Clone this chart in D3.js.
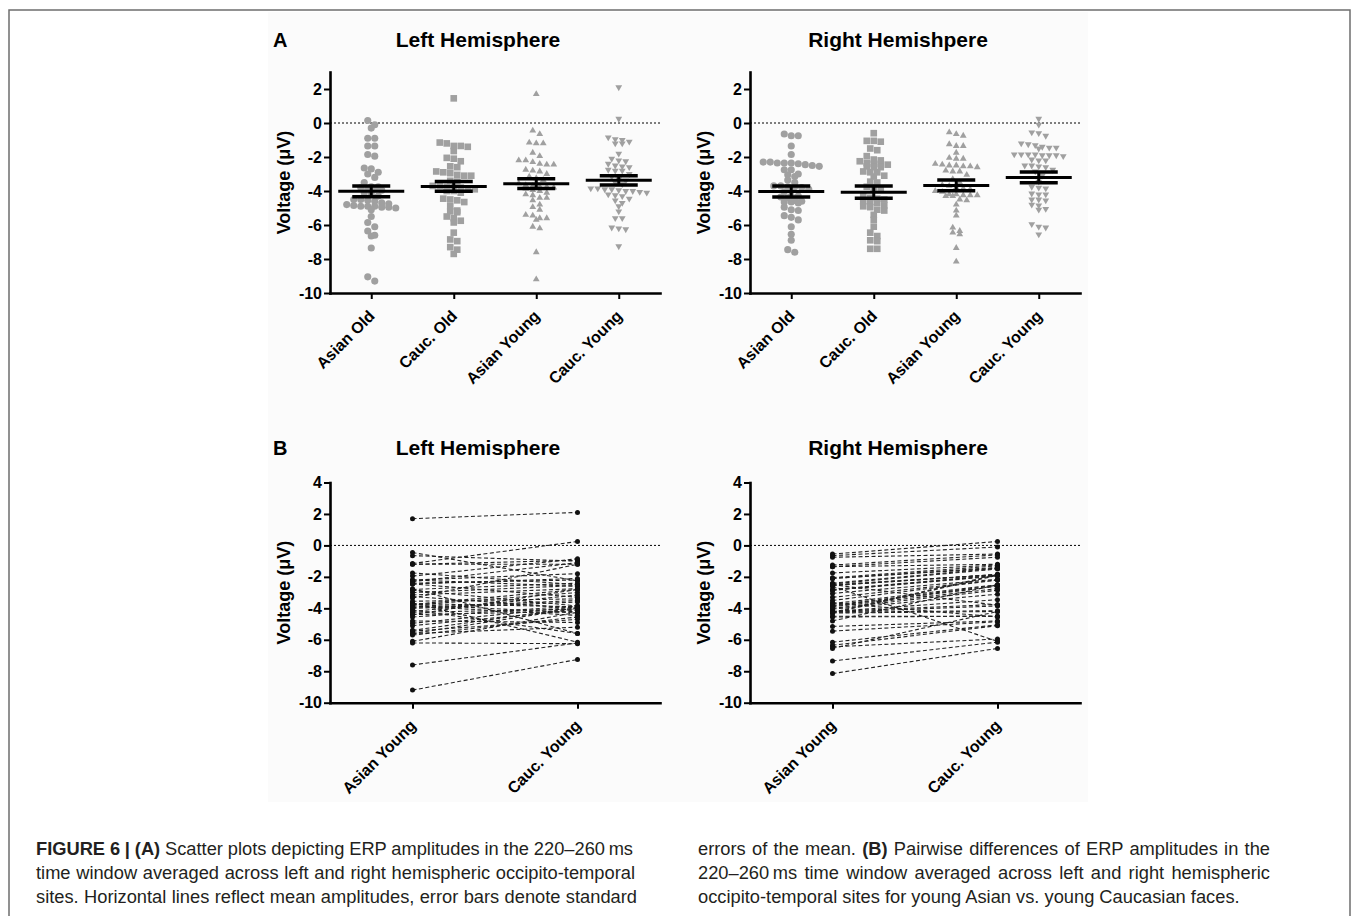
<!DOCTYPE html>
<html><head><meta charset="utf-8">
<script src="https://cdn.jsdelivr.net/npm/d3@7"></script>
<style>body{margin:0;background:#fff} svg{display:block}</style>
</head><body>
<svg id="chart" width="1355" height="916"></svg>
<script>
// ---------- DATA ----------
const groups = ["Asian Old", "Cauc. Old", "Asian Young", "Cauc. Young"];
const pairGroups = ["Asian Young", "Cauc. Young"];
const yTicksA = [2, 0, -2, -4, -6, -8, -10];
const yTicksB = [4, 2, 0, -2, -4, -6, -8, -10];
const titlesA = ["Left Hemisphere", "Right Hemishpere"];
const titlesB = ["Left Hemisphere", "Right Hemisphere"];

const leftAsianOld = [0.15, -0.1, -0.3, -0.9, -0.9, -1.35, -1.35, -1.85, -1.95, -2.65, -2.7, -2.9, -3.0, -3.2, -3.5, -3.75, -3.75, -3.8, -3.85, -3.9, -3.95, -4.1, -4.2, -4.3, -4.5, -4.5, -4.55, -4.6, -4.7, -4.75, -4.8, -4.85, -4.9, -4.9, -4.9, -4.95, -4.95, -5.0, -5.1, -5.5, -5.85, -6.1, -6.35, -6.6, -6.65, -7.35, -9.05, -9.3];
const leftCaucOld = [1.45, -1.15, -1.2, -1.35, -1.35, -1.4, -1.65, -2.05, -2.1, -2.25, -2.55, -2.6, -2.85, -2.9, -2.95, -3.05, -3.1, -3.1, -3.4, -3.45, -3.7, -3.7, -3.75, -3.75, -3.8, -3.85, -3.9, -4.0, -4.0, -4.1, -4.45, -4.5, -4.55, -4.65, -4.9, -5.15, -5.2, -5.25, -5.5, -5.6, -5.75, -5.85, -6.45, -6.85, -6.95, -7.3, -7.45, -7.7];
// Young groups are listed per participant (same index = same participant, used for panel B)
const leftAsianYoung = [1.7, -0.45, -0.65, -1.15, -1.2, -1.2, -1.75, -1.95, -2.2, -2.2, -2.3, -2.4, -2.45, -2.45, -2.75, -2.8, -2.85, -3.0, -3.15, -3.25, -3.35, -3.55, -3.65, -3.7, -3.75, -3.75, -3.8, -3.85, -3.95, -4.0, -4.1, -4.2, -4.25, -4.4, -4.4, -4.55, -4.8, -4.95, -5.1, -5.4, -5.45, -5.6, -5.6, -5.7, -6.1, -6.2, -7.6, -9.2];
const leftCaucYoung = [2.1, -2.25, -1.0, 0.25, -1.2, -0.95, -2.5, -0.85, -1.8, -2.6, -1.1, -2.2, -3.3, -2.1, -5.6, -2.4, -3.85, -2.55, -2.75, -4.0, -1.2, -3.4, -6.15, -3.9, -2.8, -4.3, -3.0, -4.45, -3.5, -3.6, -5.6, -3.15, -4.05, -2.8, -4.2, -3.85, -4.9, -3.9, -4.1, -3.95, -4.7, -4.0, -5.2, -4.55, -4.25, -6.25, -6.2, -7.25];

const rightAsianOld = [-0.65, -0.75, -0.75, -1.35, -1.85, -2.3, -2.3, -2.35, -2.35, -2.35, -2.4, -2.45, -2.5, -2.55, -2.75, -2.75, -3.0, -3.05, -3.15, -3.35, -3.5, -3.7, -3.7, -3.75, -3.75, -3.8, -3.9, -4.05, -4.3, -4.3, -4.35, -4.4, -4.55, -4.6, -4.65, -4.65, -4.7, -4.95, -5.1, -5.15, -5.45, -5.55, -5.7, -6.1, -6.55, -6.9, -7.45, -7.6];
const rightCaucOld = [-0.6, -1.05, -1.05, -1.1, -1.5, -1.6, -1.95, -2.15, -2.2, -2.25, -2.35, -2.4, -2.4, -2.45, -2.55, -2.6, -2.6, -2.85, -2.9, -2.9, -3.1, -3.15, -3.45, -3.5, -3.75, -3.8, -3.85, -4.3, -4.4, -4.45, -4.5, -4.6, -4.65, -4.7, -4.85, -4.9, -4.95, -5.1, -5.15, -5.4, -5.7, -6.1, -6.45, -6.65, -6.9, -6.95, -7.4, -7.4];
const rightAsianYoung = [-0.55, -0.65, -0.75, -1.25, -1.35, -1.35, -1.75, -2.05, -2.1, -2.1, -2.4, -2.45, -2.5, -2.5, -2.55, -2.55, -2.6, -2.8, -2.85, -2.85, -3.05, -3.3, -3.5, -3.65, -3.7, -3.8, -3.85, -3.9, -4.0, -4.05, -4.2, -4.2, -4.25, -4.25, -4.25, -4.3, -4.3, -4.5, -4.55, -4.8, -5.15, -5.45, -6.15, -6.35, -6.45, -6.55, -7.35, -8.15];
const rightCaucYoung = [0.25, -0.1, -0.55, -0.6, -0.75, -1.2, -1.25, -1.3, -1.4, -1.45, -1.45, -1.5, -3.8, -1.85, -1.85, -1.85, -6.1, -1.9, -1.9, -1.95, -2.15, -2.2, -2.2, -4.55, -2.5, -2.55, -2.6, -2.75, -2.85, -3.1, -3.45, -3.75, -1.85, -3.85, -4.15, -1.9, -4.2, -4.5, -4.5, -2.5, -4.8, -4.85, -5.05, -5.1, -5.95, -4.2, -6.15, -6.55];

// means and standard errors
const leftMeans = [-4.02, -3.73, -3.57, -3.37];
const leftSEM = [0.32, 0.29, 0.29, 0.27];
const rightMeans = [-4.03, -4.07, -3.67, -3.2];
const rightSEM = [0.32, 0.36, 0.32, 0.32];

const captionLeft = [
  [["FIGURE 6 | (A)", true], [" Scatter plots depicting ERP amplitudes in the 220–260\u2009ms", false]],
  [["time window averaged across left and right hemispheric occipito-temporal", false]],
  [["sites. Horizontal lines reflect mean amplitudes, error bars denote standard", false]]
];
const captionRight = [
  [["errors of the mean. ", false], ["(B)", true], [" Pairwise differences of ERP amplitudes in the", false]],
  [["220–260\u2009ms time window averaged across left and right hemispheric", false]],
  [["occipito-temporal sites for young Asian vs. young Caucasian faces.", false]]
];

// ---------- DRAW ----------
const svg = d3.select("#chart");
const FONT = "'Liberation Sans', Arial, Helvetica, sans-serif";

// figure frame and faint figure background
svg.append("rect").attr("x", 268).attr("y", 12).attr("width", 820).attr("height", 790).attr("fill", "#fbfbfb");
svg.append("path").attr("d", "M9,930 V10 H1350 V930").attr("fill", "none").attr("stroke", "#6e6e6e").attr("stroke-width", 1.5);

const panelX = [330, 750];
const plotW = 330;

function styleAxis(g) {
  g.select(".domain").attr("stroke", "#000").attr("stroke-width", 2.6).attr("stroke-linecap", "square");
  g.selectAll(".tick line").attr("stroke", "#000").attr("stroke-width", 2);
  g.selectAll(".tick text").attr("fill", "#000").style("font-family", FONT).style("font-weight", "bold").style("font-size", "16px");
}

function drawFrame(x0, yScale, ticks, xScale, title, titleY, panelLetter) {
  const yBottom = yScale.range()[0];
  svg.append("line").attr("x1", x0).attr("x2", x0 + plotW)
    .attr("y1", yScale(0)).attr("y2", yScale(0))
    .attr("stroke", "#000").attr("stroke-width", 1).attr("stroke-dasharray", "2,2");
  const gy = svg.append("g").attr("transform", `translate(${x0},0)`)
    .call(d3.axisLeft(yScale).tickValues(ticks).tickSize(6).tickSizeOuter(0).tickPadding(2).tickFormat(d => String(d)));
  styleAxis(gy);
  const gx = svg.append("g").attr("transform", `translate(0,${yBottom})`)
    .call(d3.axisBottom(xScale).tickSize(6).tickSizeOuter(0));
  styleAxis(gx);
  gx.selectAll(".tick text").attr("text-anchor", "end").attr("x", 0).attr("y", 0).attr("dy", 0)
    .attr("transform", "translate(4,24) rotate(-45)");
  const yMid = (yScale.range()[0] + yScale.range()[1]) / 2;
  svg.append("text").attr("transform", `translate(${x0 - 40},${yMid}) rotate(-90)`)
    .attr("text-anchor", "middle").style("font-family", FONT).style("font-weight", "bold").style("font-size", "18px")
    .text("Voltage (μV)");
  svg.append("text").attr("x", x0 + 148).attr("y", titleY).attr("text-anchor", "middle")
    .style("font-family", FONT).style("font-weight", "bold").style("font-size", "21px").text(title);
  if (panelLetter) {
    svg.append("text").attr("x", 273).attr("y", titleY).style("font-family", FONT)
      .style("font-weight", "bold").style("font-size", "20px").text(panelLetter);
  }
}

function swarm(values, yScale, spacing, thresh) {
  const pts = values.map(v => ({ v, y: yScale(v) })).sort((a, b) => a.y - b.y);
  const rows = [];
  let cur = null;
  for (const p of pts) {
    if (!cur || p.y - cur[0].y > thresh) { cur = [p]; rows.push(cur); } else cur.push(p);
  }
  rows.forEach(r => r.forEach((p, i) => { p.dx = (i - (r.length - 1) / 2) * spacing; }));
  return pts;
}

const symbols = [d3.symbolCircle, d3.symbolSquare, d3.symbolTriangle, d3.symbolTriangle];
const symSizes = [40, 44, 20, 20];
const symRot = [0, 0, 0, 180];

// Panel A
const panelAData = [
  [leftAsianOld, leftCaucOld, leftAsianYoung, leftCaucYoung],
  [rightAsianOld, rightCaucOld, rightAsianYoung, rightCaucYoung]
];
const panelAMeans = [leftMeans, rightMeans];
const panelASEM = [leftSEM, rightSEM];

panelX.forEach((x0, p) => {
  const y = d3.scaleLinear().domain([-10, 3]).range([293, 72]);
  const x = d3.scalePoint().domain(groups).range([x0, x0 + plotW]).padding(0.5);
  drawFrame(x0, y, yTicksA, x, titlesA[p], 47, p === 0 ? "A" : null);
  panelAData[p].forEach((vals, gi) => {
    const cx = x(groups[gi]);
    const pts = swarm(vals, y, 7, 4.5);
    svg.append("g").selectAll("path").data(pts).join("path")
      .attr("d", d3.symbol().type(symbols[gi]).size(symSizes[gi]))
      .attr("transform", d => `translate(${cx + d.dx},${d.y}) rotate(${symRot[gi]})`)
      .attr("fill", "#a0a0a0");
    const m = panelAMeans[p][gi], s = panelASEM[p][gi];
    const g = svg.append("g").attr("stroke", "#000");
    g.append("line").attr("x1", cx - 33).attr("x2", cx + 33).attr("y1", y(m)).attr("y2", y(m)).attr("stroke-width", 3);
    g.append("line").attr("x1", cx).attr("x2", cx).attr("y1", y(m + s)).attr("y2", y(m - s)).attr("stroke-width", 3);
    [m + s, m - s].forEach(v => g.append("line").attr("x1", cx - 19).attr("x2", cx + 19)
      .attr("y1", y(v)).attr("y2", y(v)).attr("stroke-width", 3.5));
  });
});

// Panel B
const panelBData = [[leftAsianYoung, leftCaucYoung], [rightAsianYoung, rightCaucYoung]];
panelX.forEach((x0, p) => {
  const y = d3.scaleLinear().domain([-10, 4]).range([702.7, 482.5]);
  const x = d3.scalePoint().domain(pairGroups).range([x0, x0 + plotW]).padding(0.5);
  drawFrame(x0, y, yTicksB, x, titlesB[p], 455, p === 0 ? "B" : null);
  const [a, c] = panelBData[p];
  const pairs = a.map((v, i) => [v, c[i]]);
  svg.append("g").selectAll("line").data(pairs).join("line")
    .attr("x1", x(pairGroups[0])).attr("x2", x(pairGroups[1]))
    .attr("y1", d => y(d[0])).attr("y2", d => y(d[1]))
    .attr("stroke", "#222").attr("stroke-width", 1.1).attr("stroke-dasharray", "4,2.5");
  const dots = [];
  pairs.forEach(d => { dots.push([pairGroups[0], d[0]]); dots.push([pairGroups[1], d[1]]); });
  svg.append("g").selectAll("circle").data(dots).join("circle")
    .attr("cx", d => x(d[0])).attr("cy", d => y(d[1])).attr("r", 2.5).attr("fill", "#111");
});

// Caption (two justified columns)
function caption(lines, x0, width) {
  lines.forEach((parts, i) => {
    const t = svg.append("text").attr("x", x0).attr("y", 855 + i * 24)
      .style("font-family", FONT).style("font-size", "18.3px").attr("fill", "#231f20")
      .attr("xml:space", "preserve");
    parts.forEach(([txt, bold]) => t.append("tspan").style("font-weight", bold ? "bold" : "normal").text(txt));
    if (width[i]) {
      const w = t.node().getComputedTextLength();
      const spaces = (t.node().textContent.match(/ /g) || []).length;
      if (spaces) t.attr("word-spacing", (width[i] - w) / spaces);
    }
  });
}
caption(captionLeft, 36, [597, 599, 601]);
caption(captionRight, 698, [572, 572, 0]);
</script>
</body></html>
